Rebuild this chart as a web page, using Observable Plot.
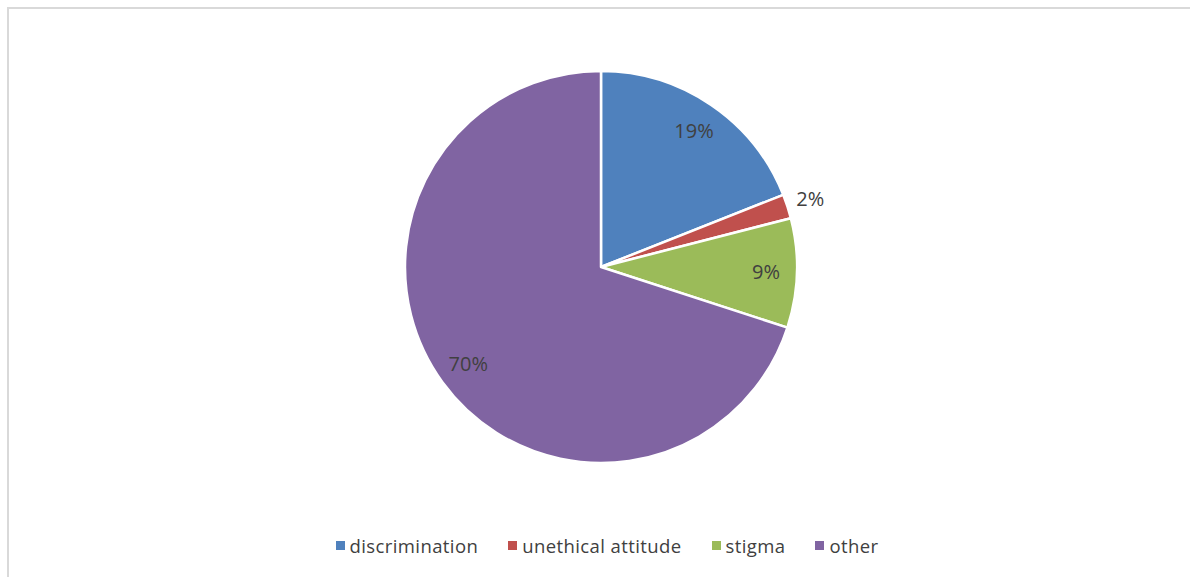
<!DOCTYPE html>
<html>
<head>
<meta charset="utf-8">
<script src="https://cdn.jsdelivr.net/npm/d3@7"></script>
<script src="https://cdn.jsdelivr.net/npm/@observablehq/plot@0.6"></script>
<style>
  html, body { margin: 0; padding: 0; background: #fff; }
  #frame { position: absolute; left: 7px; top: 7px; width: 1183px; height: 570px;
           border-top: 2px solid #d9d9d9; border-left: 2px solid #d9d9d9; box-sizing: border-box; }
  #chart { position: absolute; left: 0; top: 0; }
  #legend { position: absolute; left: 12px; top: 532px; width: 1190px; height: 26px;
            display: flex; justify-content: center; align-items: center; gap: 30px;
            font-family: "Open Sans", Lato, sans-serif; font-size: 18.5px; letter-spacing: 0.4px; color: #404040; }
  #legend .item { display: flex; align-items: center; }
  #legend .sw { width: 9px; height: 9px; margin-right: 5px; display: inline-block; }
</style>
</head>
<body>
<div id="frame"></div>
<div id="chart"></div>
<div id="legend"></div>
<script>
const categories = ["discrimination", "unethical attitude", "stigma", "other"];
const values = [19, 2, 9, 70];
const labels = ["19%", "2%", "9%", "70%"];
const colors = ["#4F81BD", "#C0504D", "#9BBB59", "#8064A2"];

// layout constants (pixels)
const W = 1190, H = 525;
const CX = 601, CY = 267, R = 196;

const pie = d3.pie().sort(null).value(d => d.value);
const data = categories.map((c, i) => ({category: c, value: values[i], label: labels[i]}));
const arcs = pie(data);
const total = d3.sum(values);

// label positions from slice mid-angles
const labelData = arcs.map(a => {
  const mid = (a.startAngle + a.endAngle) / 2;
  const f = a.data.value / total < 0.05 ? 1.12 : 0.84;
  return {label: a.data.label, x: CX + R * f * Math.sin(mid), y: CY - R * f * Math.cos(mid)};
});

function pieMark(index, scales) {
  const cx = scales.x(CX), cy = scales.y(CY);
  const r = scales.x(CX + R) - cx;
  const arc = d3.arc().innerRadius(0).outerRadius(r);
  const g = d3.create("svg:g").attr("transform", `translate(${cx},${cy})`);
  g.selectAll("path").data(arcs).join("path")
    .attr("d", arc)
    .attr("fill", d => scales.color(d.data.category))
    .attr("stroke", "#fff")
    .attr("stroke-width", 2.5)
    .attr("stroke-linejoin", "round");
  return g.node();
}

const plot = Plot.plot({
  width: W, height: H,
  margin: 0,
  x: {domain: [0, W], range: [0, W], axis: null},
  y: {domain: [0, H], range: [0, H], axis: null},
  color: {domain: categories, range: colors},
  style: {background: "transparent", fontFamily: "'Open Sans', Lato, sans-serif"},
  marks: [
    pieMark,
    Plot.text(labelData, {x: "x", y: "y", text: "label", fill: "#404040", fontSize: 20, style: {letterSpacing: "0.5px"}})
  ]
});
document.getElementById("chart").appendChild(plot);

const legend = d3.select("#legend");
categories.forEach((c, i) => {
  const it = legend.append("div").attr("class", "item");
  it.append("span").attr("class", "sw").style("background", colors[i]);
  it.append("span").text(c);
});
</script>
</body>
</html>
